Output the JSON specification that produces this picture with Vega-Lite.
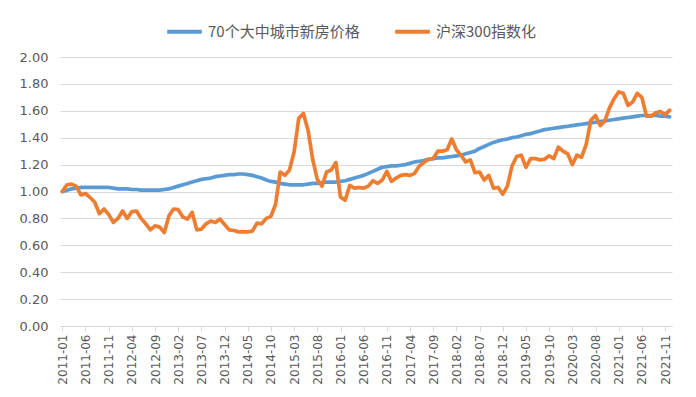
{
  "$schema": "https://vega.github.io/schema/vega-lite/v6.json",
  "width": 612,
  "height": 269,
  "autosize": {"type": "none"},
  "padding": {"left": 60, "top": 57, "right": 24, "bottom": 71},
  "background": "white",
  "config": {"view": {"stroke": null}, "font": "DejaVu Sans"},
  "data": {"values": [
    {"m":"2011-01","h":1.00,"s":1.00},{"m":"2011-02","h":1.01,"s":1.05},{"m":"2011-03","h":1.02,"s":1.055},{"m":"2011-04","h":1.025,"s":1.04},{"m":"2011-05","h":1.03,"s":0.975},{"m":"2011-06","h":1.03,"s":0.985},{"m":"2011-07","h":1.03,"s":0.955},{"m":"2011-08","h":1.03,"s":0.92},{"m":"2011-09","h":1.03,"s":0.835},{"m":"2011-10","h":1.03,"s":0.87},{"m":"2011-11","h":1.03,"s":0.83},{"m":"2011-12","h":1.025,"s":0.77},
    {"m":"2012-01","h":1.02,"s":0.80},{"m":"2012-02","h":1.02,"s":0.855},{"m":"2012-03","h":1.02,"s":0.80},{"m":"2012-04","h":1.015,"s":0.85},{"m":"2012-05","h":1.015,"s":0.855},{"m":"2012-06","h":1.01,"s":0.80},{"m":"2012-07","h":1.01,"s":0.76},{"m":"2012-08","h":1.01,"s":0.715},{"m":"2012-09","h":1.01,"s":0.745},{"m":"2012-10","h":1.01,"s":0.735},{"m":"2012-11","h":1.015,"s":0.695},{"m":"2012-12","h":1.02,"s":0.82},
    {"m":"2013-01","h":1.03,"s":0.87},{"m":"2013-02","h":1.04,"s":0.865},{"m":"2013-03","h":1.05,"s":0.81},{"m":"2013-04","h":1.06,"s":0.795},{"m":"2013-05","h":1.07,"s":0.845},{"m":"2013-06","h":1.08,"s":0.715},{"m":"2013-07","h":1.09,"s":0.72},{"m":"2013-08","h":1.095,"s":0.76},{"m":"2013-09","h":1.10,"s":0.78},{"m":"2013-10","h":1.11,"s":0.77},{"m":"2013-11","h":1.115,"s":0.795},{"m":"2013-12","h":1.12,"s":0.755},
    {"m":"2014-01","h":1.125,"s":0.715},{"m":"2014-02","h":1.125,"s":0.71},{"m":"2014-03","h":1.13,"s":0.70},{"m":"2014-04","h":1.13,"s":0.70},{"m":"2014-05","h":1.125,"s":0.70},{"m":"2014-06","h":1.12,"s":0.705},{"m":"2014-07","h":1.11,"s":0.765},{"m":"2014-08","h":1.10,"s":0.76},{"m":"2014-09","h":1.085,"s":0.80},{"m":"2014-10","h":1.075,"s":0.815},{"m":"2014-11","h":1.07,"s":0.905},{"m":"2014-12","h":1.06,"s":1.145},
    {"m":"2015-01","h":1.055,"s":1.12},{"m":"2015-02","h":1.05,"s":1.16},{"m":"2015-03","h":1.05,"s":1.295},{"m":"2015-04","h":1.05,"s":1.545},{"m":"2015-05","h":1.05,"s":1.58},{"m":"2015-06","h":1.055,"s":1.455},{"m":"2015-07","h":1.06,"s":1.24},{"m":"2015-08","h":1.06,"s":1.09},{"m":"2015-09","h":1.065,"s":1.04},{"m":"2015-10","h":1.07,"s":1.145},{"m":"2015-11","h":1.07,"s":1.16},{"m":"2015-12","h":1.07,"s":1.215},
    {"m":"2016-01","h":1.075,"s":0.96},{"m":"2016-02","h":1.08,"s":0.935},{"m":"2016-03","h":1.09,"s":1.045},{"m":"2016-04","h":1.10,"s":1.025},{"m":"2016-05","h":1.11,"s":1.03},{"m":"2016-06","h":1.12,"s":1.025},{"m":"2016-07","h":1.135,"s":1.04},{"m":"2016-08","h":1.15,"s":1.08},{"m":"2016-09","h":1.165,"s":1.06},{"m":"2016-10","h":1.18,"s":1.085},{"m":"2016-11","h":1.185,"s":1.15},{"m":"2016-12","h":1.19,"s":1.075},
    {"m":"2017-01","h":1.19,"s":1.10},{"m":"2017-02","h":1.195,"s":1.12},{"m":"2017-03","h":1.20,"s":1.125},{"m":"2017-04","h":1.21,"s":1.12},{"m":"2017-05","h":1.22,"s":1.135},{"m":"2017-06","h":1.225,"s":1.19},{"m":"2017-07","h":1.23,"s":1.215},{"m":"2017-08","h":1.24,"s":1.24},{"m":"2017-09","h":1.245,"s":1.245},{"m":"2017-10","h":1.25,"s":1.30},{"m":"2017-11","h":1.25,"s":1.30},{"m":"2017-12","h":1.255,"s":1.31},
    {"m":"2018-01","h":1.26,"s":1.39},{"m":"2018-02","h":1.265,"s":1.31},{"m":"2018-03","h":1.27,"s":1.27},{"m":"2018-04","h":1.28,"s":1.22},{"m":"2018-05","h":1.29,"s":1.235},{"m":"2018-06","h":1.30,"s":1.14},{"m":"2018-07","h":1.32,"s":1.145},{"m":"2018-08","h":1.335,"s":1.085},{"m":"2018-09","h":1.35,"s":1.12},{"m":"2018-10","h":1.365,"s":1.025},{"m":"2018-11","h":1.375,"s":1.03},{"m":"2018-12","h":1.385,"s":0.98},
    {"m":"2019-01","h":1.39,"s":1.04},{"m":"2019-02","h":1.40,"s":1.19},{"m":"2019-03","h":1.405,"s":1.26},{"m":"2019-04","h":1.415,"s":1.27},{"m":"2019-05","h":1.425,"s":1.18},{"m":"2019-06","h":1.43,"s":1.245},{"m":"2019-07","h":1.44,"s":1.245},{"m":"2019-08","h":1.45,"s":1.235},{"m":"2019-09","h":1.46,"s":1.24},{"m":"2019-10","h":1.465,"s":1.265},{"m":"2019-11","h":1.47,"s":1.245},{"m":"2019-12","h":1.475,"s":1.33},
    {"m":"2020-01","h":1.48,"s":1.30},{"m":"2020-02","h":1.485,"s":1.28},{"m":"2020-03","h":1.49,"s":1.20},{"m":"2020-04","h":1.495,"s":1.27},{"m":"2020-05","h":1.50,"s":1.255},{"m":"2020-06","h":1.505,"s":1.35},{"m":"2020-07","h":1.51,"s":1.53},{"m":"2020-08","h":1.515,"s":1.565},{"m":"2020-09","h":1.52,"s":1.49},{"m":"2020-10","h":1.525,"s":1.525},{"m":"2020-11","h":1.53,"s":1.62},{"m":"2020-12","h":1.535,"s":1.69},
    {"m":"2021-01","h":1.54,"s":1.74},{"m":"2021-02","h":1.545,"s":1.73},{"m":"2021-03","h":1.55,"s":1.64},{"m":"2021-04","h":1.555,"s":1.665},{"m":"2021-05","h":1.56,"s":1.73},{"m":"2021-06","h":1.565,"s":1.70},{"m":"2021-07","h":1.565,"s":1.56},{"m":"2021-08","h":1.565,"s":1.56},{"m":"2021-09","h":1.565,"s":1.585},{"m":"2021-10","h":1.56,"s":1.595},{"m":"2021-11","h":1.56,"s":1.57},{"m":"2021-12","h":1.555,"s":1.605}
  ]},
  "transform": [
    {"fold": ["h", "s"], "as": ["key", "value"]},
    {"lookup": "key", "from": {"data": {"values": [{"key": "h", "series": "70个大中城市新房价格"}, {"key": "s", "series": "沪深300指数化"}]}, "key": "key", "fields": ["series"]}}
  ],
  "mark": {"type": "line", "strokeWidth": 3.7, "strokeJoin": "round", "strokeCap": "round"},
  "encoding": {
    "x": {
      "field": "m", "type": "ordinal",
      "scale": {"type": "point", "padding": 0.5},
      "axis": {
        "title": null,
        "values": ["2011-01","2011-06","2011-11","2012-04","2012-09","2013-02","2013-07","2013-12","2014-05","2014-10","2015-03","2015-08","2016-01","2016-06","2016-11","2017-04","2017-09","2018-02","2018-07","2018-12","2019-05","2019-10","2020-03","2020-08","2021-01","2021-06","2021-11"],
        "labelAngle": -90, "labelAlign": "right", "labelBaseline": "middle",
        "labelFontSize": 12, "labelColor": "#595959", "labelPadding": 3,
        "domainColor": "#d9d9d9", "tickColor": "#d9d9d9", "tickSize": 5, "grid": false
      }
    },
    "y": {
      "field": "value", "type": "quantitative",
      "scale": {"domain": [0, 2], "nice": false, "zero": true},
      "axis": {
        "title": null, "values": [0, 0.2, 0.4, 0.6, 0.8, 1.0, 1.2, 1.4, 1.6, 1.8, 2.0],
        "format": ".2f", "labelFontSize": 13, "labelColor": "#595959", "labelPadding": 12,
        "ticks": false, "domain": false, "gridColor": "#d9d9d9", "gridWidth": 1
      }
    },
    "color": {
      "field": "series", "type": "nominal",
      "scale": {"domain": ["70个大中城市新房价格", "沪深300指数化"], "range": ["#5B9BD5", "#ED7D31"]},
      "legend": {
        "title": null, "orient": "none", "legendX": 105, "legendY": -45, "direction": "horizontal",
        "symbolType": "stroke", "symbolSize": 1200, "symbolStrokeWidth": 4,
        "labelFont": "Noto Sans CJK SC", "labelFontSize": 15, "labelColor": "#595959",
        "labelOffset": 4, "columnPadding": 27
      }
    }
  }
}
